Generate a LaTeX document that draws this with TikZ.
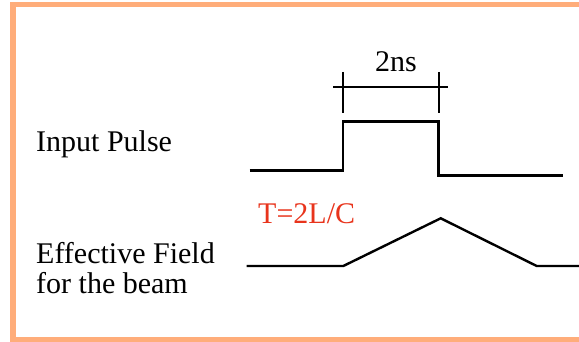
\documentclass[tikz,border=0pt]{standalone}
\usepackage{fontspec}
\setmainfont{Liberation Serif}
\definecolor{frame}{HTML}{FFAD7A}
\definecolor{lblred}{HTML}{E8341C}
\begin{document}
\begin{tikzpicture}[x=1pt,y=-1pt,
  lbl/.style={anchor=base west,inner sep=0pt,font=\fontsize{30}{29}\selectfont},
  wave/.style={line width=2.4pt,black,line join=miter}]
\useasboundingbox (0,0) rectangle (579,342);
\clip (0,0) rectangle (579,342);
\draw[frame,line width=5.5pt] (13,4.5) rectangle (600,340);
% labels
\node[lbl] (inp) at (36,151.7) {Input Pulse};
\node[lbl] (eff1) at (36,264) {Effective Field};
\node[lbl] (eff2) at (36,293.3) {for the beam};
\node[lbl,text=lblred] (T) at (258,223.3) {T=2L/C};
\node[lbl] (ns) at (375,71.7) {2ns};
% input pulse
\coordinate (p0) at (249.5,170.7);
\coordinate (p1) at (343,170.7);
\coordinate (p2) at (343,121.7);
\coordinate (p3) at (438.5,121.7);
\coordinate (p4) at (438.5,175.5);
\coordinate (p5) at (562.5,175.5);
\draw[wave] (p0) -- (p1) -- (p2) -- (p3) -- (p4) -- (p5);
% dimension
\coordinate (dl) at (333,87.3);
\coordinate (dr) at (448,87.3);
\draw[line width=2pt] (dl) -- (dr);
\draw[line width=2pt] (343,72) -- (343,113.3);
\draw[line width=2pt] (438.5,72) -- (438.5,113.3);
% effective field
\coordinate (e0) at (246.7,266);
\coordinate (e1) at (343.3,266);
\coordinate (e2) at (440.7,218.3);
\coordinate (e3) at (536.7,266);
\coordinate (e4) at (585,266);
\draw[wave] (e0) -- (e1) -- (e2) -- (e3) -- (e4);
\end{tikzpicture}
\end{document}
